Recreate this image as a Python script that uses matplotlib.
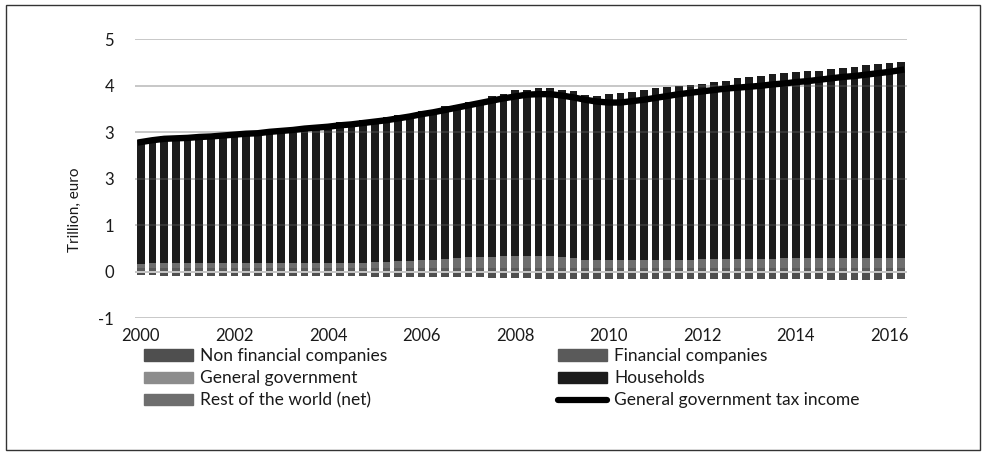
import matplotlib
matplotlib.use("Agg")
import matplotlib.pyplot as plt
import numpy as np
from matplotlib.patches import Patch, Rectangle
from matplotlib.lines import Line2D

plt.rcParams['font.family'] = ['Lato', 'DejaVu Sans']

years = ["2000", "2002", "2004", "2006", "2008", "2010", "2012", "2014", "2016"]
ytick_labels = ["-1", "0", "1", "3", "3", "4", "5"]

households = [2.67, 2.70, 2.73, 2.74, 2.75, 2.77, 2.78, 2.80, 2.82, 2.84, 2.85, 2.88, 2.90, 2.91, 2.94, 2.96,
              2.99, 3.03, 3.02, 3.07, 3.08, 3.11, 3.15, 3.16, 3.21, 3.23, 3.29, 3.30, 3.34, 3.36, 3.45, 3.50,
              3.57, 3.58, 3.61, 3.61, 3.61, 3.59, 3.55, 3.54, 3.57, 3.59, 3.61, 3.64, 3.69, 3.71, 3.73, 3.76,
              3.77, 3.82, 3.84, 3.88, 3.90, 3.94, 3.98, 3.98, 4.00, 4.02, 4.02, 4.07, 4.10, 4.12, 4.15, 4.17,
              4.19, 4.22]
general_government = [
    0.02, 0.02, 0.02, 0.02, 0.02, 0.02, 0.02, 0.02, 0.02, 0.02, 0.02, 0.02, 0.02, 0.02, 0.02, 0.02,
    0.02, 0.02, 0.02, 0.02, 0.02, 0.02, 0.02, 0.02, 0.02, 0.02, 0.02, 0.02, 0.02, 0.02, 0.02, 0.02,
    0.02, 0.02, 0.02, 0.02, 0.02, 0.02, 0.02, 0.02, 0.02, 0.02, 0.02, 0.02, 0.02, 0.02, 0.02, 0.02,
    0.02, 0.02, 0.02, 0.02, 0.02, 0.02, 0.02, 0.02, 0.02, 0.02, 0.02, 0.02, 0.02, 0.02, 0.02, 0.02,
    0.02, 0.02]
financial_companies = [
    0.06, 0.06, 0.06, 0.06, 0.06, 0.06, 0.06, 0.06, 0.06, 0.06, 0.06, 0.06, 0.06, 0.06, 0.06, 0.06,
    0.06, 0.06, 0.06, 0.06, 0.07, 0.07, 0.07, 0.07, 0.07, 0.07, 0.07, 0.07, 0.07, 0.07, 0.07, 0.07,
    0.07, 0.07, 0.07, 0.07, 0.06, 0.06, 0.06, 0.06, 0.06, 0.06, 0.06, 0.06, 0.06, 0.06, 0.06, 0.06,
    0.06, 0.06, 0.06, 0.06, 0.06, 0.06, 0.06, 0.06, 0.06, 0.06, 0.06, 0.06, 0.06, 0.06, 0.06, 0.06,
    0.06, 0.06]
rest_of_world = [
    0.09, 0.10, 0.10, 0.10, 0.10, 0.10, 0.10, 0.10, 0.10, 0.10, 0.10, 0.10, 0.10, 0.11, 0.11, 0.11,
    0.11, 0.11, 0.12, 0.12, 0.12, 0.13, 0.14, 0.15, 0.16, 0.17, 0.18, 0.20, 0.22, 0.23, 0.23, 0.24,
    0.24, 0.25, 0.25, 0.25, 0.23, 0.21, 0.18, 0.17, 0.17, 0.17, 0.17, 0.18, 0.18, 0.18, 0.18, 0.18,
    0.19, 0.19, 0.19, 0.20, 0.20, 0.20, 0.20, 0.21, 0.21, 0.21, 0.21, 0.21, 0.21, 0.21, 0.21, 0.21,
    0.21, 0.21]
non_financial_companies = [
    -0.06, -0.07, -0.09, -0.09, -0.09, -0.09, -0.09, -0.10, -0.10, -0.10, -0.10, -0.10, -0.10, -0.10,
    -0.10, -0.10, -0.10, -0.10, -0.10, -0.10, -0.11, -0.11, -0.11, -0.11, -0.11, -0.11, -0.11, -0.12,
    -0.12, -0.12, -0.14, -0.14, -0.14, -0.14, -0.16, -0.16, -0.16, -0.16, -0.16, -0.16, -0.16, -0.16,
    -0.16, -0.16, -0.16, -0.16, -0.16, -0.16, -0.16, -0.16, -0.16, -0.16, -0.16, -0.16, -0.16, -0.16,
    -0.15, -0.15, -0.15, -0.18, -0.18, -0.18, -0.18, -0.18, -0.15, -0.15]
tax_income = [2.79, 2.83, 2.86, 2.87, 2.88, 2.90, 2.91, 2.93, 2.95, 2.97, 2.98, 3.01, 3.03, 3.05, 3.08, 3.10,
              3.12, 3.15, 3.17, 3.20, 3.23, 3.26, 3.30, 3.34, 3.39, 3.43, 3.48, 3.53, 3.58, 3.63, 3.68, 3.73,
              3.77, 3.81, 3.82, 3.82, 3.79, 3.75, 3.70, 3.66, 3.64, 3.64, 3.67, 3.70, 3.74, 3.78, 3.82, 3.85,
              3.88, 3.91, 3.94, 3.96, 3.98, 4.00, 4.03, 4.05, 4.08, 4.10, 4.13, 4.16, 4.19, 4.21, 4.24, 4.27,
              4.30, 4.34]

c_hh = '#1c1c1c'
c_nfc = '#4f4f4f'
c_fin = '#5a5a5a'
c_gov = '#8c8c8c'
c_row = '#6e6e6e'
txt = '#1a1a1a'

n = len(households)
x = np.arange(n)
W, H = 986, 455
fig = plt.figure(figsize=(W / 100, H / 100), dpi=100)
ax = fig.add_axes([135 / W, 1 - 318.3 / H, (907 - 135) / W, (318.3 - 39.3) / H])

bw = 0.66
gov = np.array(general_government)
fin = np.array(financial_companies)
row = np.array(rest_of_world)
ax.bar(x, gov, bw, color=c_gov, zorder=2, linewidth=0)
ax.bar(x, fin, bw, bottom=gov, color=c_fin, zorder=2, linewidth=0)
ax.bar(x, row, bw, bottom=gov + fin, color=c_row, zorder=2, linewidth=0)
ax.bar(x, households, bw, bottom=gov + fin + row, color=c_hh, zorder=2, linewidth=0)
ax.bar(x, non_financial_companies, bw, color=c_nfc, zorder=2, linewidth=0)
ax.plot(x, tax_income, color='#000000', lw=4.6, zorder=4, solid_joinstyle='round')

ax.set_xlim(-0.5, n - 0.5)
ax.set_ylim(-1, 5)
yt = [-1, 0, 1, 2, 3, 4, 5]
for v in yt:
    ax.axhline(v, color='#c8c8c8', lw=1.4, zorder=1)
    if v == 0:
        ax.axhline(v, color='#c8c8c8', lw=1.4, zorder=3)
    elif v in (1, 2, 3, 4):
        ax.axhline(v, color='#c8c8c8', lw=1.2, zorder=3, alpha=0.18)
ax.set_yticks(yt)
ax.set_yticklabels(ytick_labels)
ax.set_xticks(np.arange(0, n, 8)[:len(years)])
ax.set_xticklabels(years)
for s in ax.spines.values():
    s.set_visible(False)
ax.tick_params(axis='y', length=0, pad=15, labelsize=12, labelcolor=txt)
ax.tick_params(axis='x', length=0, pad=7, labelsize=12, labelcolor=txt)

fig.text(75 / W, 1 - 210 / H, "Trillion, euro", rotation=90, ha='center', va='center',
         fontsize=11, color=txt)

fs = 12.5
left_handles = [Patch(color=c_nfc), Patch(color=c_gov), Patch(color=c_row)]
left_labels = ["Non financial companies", "General government", "Rest of the world (net)"]
right_handles = [Patch(color=c_fin), Patch(color=c_hh),
                 Line2D([0], [0], color='#000000', lw=4.5, solid_capstyle='round')]
right_labels = ["Financial companies", "Households", "General government tax income"]
common = dict(loc='upper left', frameon=False, fontsize=fs, borderpad=0, borderaxespad=0,
              handlelength=2.8, handleheight=0.62, handletextpad=0.45, labelspacing=0.36,
              labelcolor=txt)
leg1 = fig.legend(left_handles, left_labels, bbox_to_anchor=(144 / W, 1 - 348 / H), **common)
leg2 = fig.legend(right_handles, right_labels, bbox_to_anchor=(558 / W, 1 - 348 / H), **common)

fig.patches.append(Rectangle((6 / W, 5 / H), (980 - 6) / W, (450 - 5) / H, transform=fig.transFigure,
                             fill=False, edgecolor='#333333', lw=1.0))

fig.savefig("out.png", dpi=100)
